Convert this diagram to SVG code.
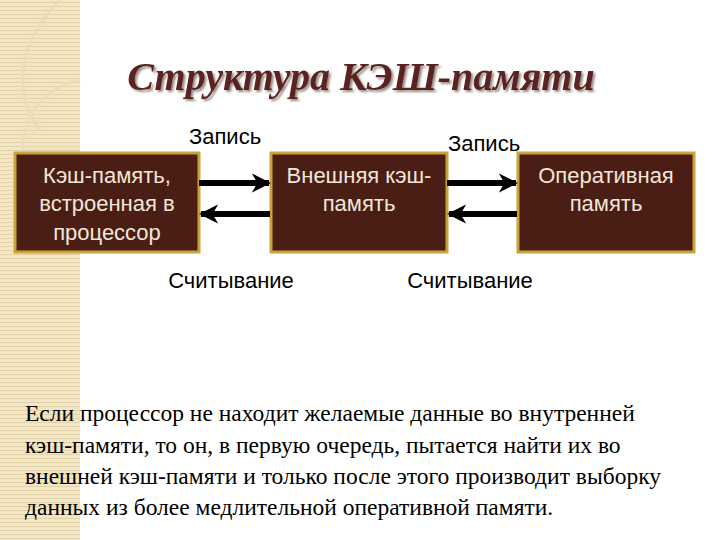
<svg xmlns="http://www.w3.org/2000/svg" width="720" height="540" viewBox="0 0 720 540">
<defs>
<pattern id="stripes" width="6" height="4" patternUnits="userSpaceOnUse">
<rect width="6" height="4" fill="#f1e6c8"/><rect y="2" width="6" height="1" fill="#e2d2a6"/>
</pattern>
<marker id="ah" viewBox="0 0 10 10" refX="9" refY="5" markerWidth="3.2" markerHeight="3.2" orient="auto" markerUnits="strokeWidth">
<path d="M0,0 L10,5 L0,10 L3,5 Z" fill="#000"/>
</marker>
<filter id="sh" x="-5%" y="-20%" width="110%" height="140%">
<feDropShadow dx="2" dy="2" stdDeviation="0.8" flood-color="#9a8a80"/>
</filter>
</defs>
<style>
.box{fill:#4a1e14;stroke:#c9a23a;stroke-width:3}
.bt{font-family:"Liberation Sans",Arial,sans-serif;font-size:22px;fill:#f2e6da;text-anchor:middle}
.lb{font-family:"Liberation Sans",Arial,sans-serif;font-size:22px;fill:#000;text-anchor:middle}
.ar{stroke:#000;stroke-width:6;fill:none;marker-end:url(#ah)}
.body{font-family:"Liberation Serif","Times New Roman",serif;font-size:23.5px;fill:#000}
</style>
<rect width="720" height="540" fill="#fff"/>
<rect width="80" height="540" fill="url(#stripes)"/>
<g fill="none" stroke="#e8dcbc" stroke-width="3" opacity="0.8">
<path d="M60,0 C20,40 10,90 40,130"/><path d="M80,80 C30,90 10,140 30,190"/>
</g>
<text x="361" y="90" font-family="Liberation Serif,serif" font-size="40" font-weight="bold" font-style="italic" fill="#5a2420" text-anchor="middle" filter="url(#sh)">Структура КЭШ-памяти</text>
<g id="n1"><rect class="box" x="15" y="153" width="184" height="99"/>
<text class="bt" x="107" y="183">Кэш-память,</text><text class="bt" x="107" y="211">встроенная в</text><text class="bt" x="107" y="240">процессор</text></g>
<g id="n2"><rect class="box" x="271" y="153" width="176" height="99"/>
<text class="bt" x="359" y="183">Внешняя кэш-</text><text class="bt" x="359" y="211">память</text></g>
<g id="n3"><rect class="box" x="518" y="153" width="176" height="99"/>
<text class="bt" x="606" y="183">Оперативная</text><text class="bt" x="606" y="211">память</text></g>
<g id="connectors">
<line class="ar" x1="199" y1="183" x2="269" y2="183"/>
<line class="ar" x1="270" y1="214" x2="201" y2="214"/>
<line class="ar" x1="447" y1="183" x2="516" y2="183"/>
<line class="ar" x1="517" y1="214" x2="449" y2="214"/>
</g>
<text class="lb" x="225" y="144">Запись</text>
<text class="lb" x="484" y="151">Запись</text>
<text class="lb" x="231" y="288">Считывание</text>
<text class="lb" x="470" y="288">Считывание</text>
<g class="body">
<text x="25" y="421">Если процессор не находит желаемые данные во внутренней</text>
<text x="25" y="453">кэш-памяти, то он, в первую очередь, пытается найти их во</text>
<text x="25" y="484">внешней кэш-памяти и только после этого производит выборку</text>
<text x="25" y="515">данных из более медлительной оперативной памяти.</text>
</g>
</svg>
